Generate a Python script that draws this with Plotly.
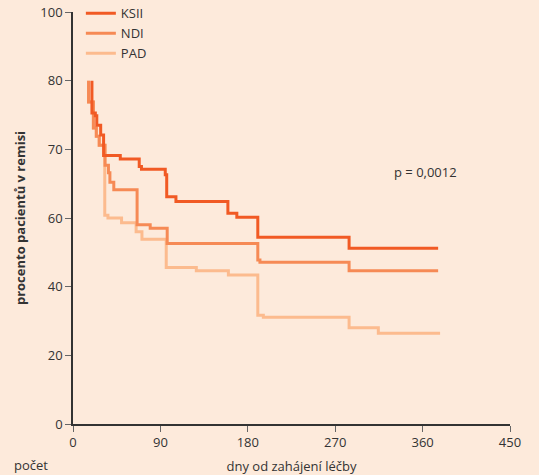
import numpy as np
import plotly.graph_objects as go

# ---- data ----
ksii_days = [19.5, 19.5, 23, 24.5, 28.5, 31.5, 48.7, 68.2, 70.5, 95, 96.5, 106, 159.5, 168.7, 190.3, 284.3, 376]
ksii_pct = [80, 75.3, 74.9, 73.5, 72.1, 69.1, 68.6, 67.5, 67.1, 66.3, 63.1, 62.4, 60.7, 60.1, 54.4, 51.2, 51.2]

ndi_days = [16, 16, 21, 24, 27, 33, 36.5, 38, 42, 66, 79.5, 97, 190.3, 192.5, 284.3, 376]
ndi_pct = [80, 76.9, 73.1, 71.9, 70.6, 67.7, 66.6, 65.2, 64.1, 58.0, 57.0, 52.6, 47.8, 47.1, 44.6, 44.6]

pad_days = [16, 16, 21, 24, 27, 32.7, 36, 50, 65, 71, 96, 127, 160, 190.3, 196, 284.3, 314.4, 378]
pad_pct = [80, 76.9, 73.1, 71.9, 70.6, 60.4, 60.0, 58.6, 56.0, 53.8, 45.6, 44.6, 43.4, 31.7, 31.1, 28.0, 26.4, 26.4]

ytick_labels = [0, 20, 40, 60, 70, 80, 100]
xtick_vals = [0, 90, 180, 270, 360, 450]

# evenly spaced tick positions (axis drawn in position units)
ytick_pos = list(np.linspace(0, 100, len(ytick_labels)))


def to_pos(v):
    return list(np.interp(v, ytick_labels, ytick_pos))


BG = "#fdeadb"
FONT = "Open Sans"
series = [
    ("KSII", ksii_days, ksii_pct, "#f15a24"),
    ("NDI", ndi_days, ndi_pct, "#f68a55"),
    ("PAD", pad_days, pad_pct, "#fcbb8e"),
]

fig = go.Figure()
for name, d, p, c in series[::-1]:
    fig.add_trace(go.Scatter(
        x=d, y=to_pos(p), mode="lines", name=name,
        line=dict(color=c, width=3, shape="hv"),
    ))

fig.update_layout(
    width=539, height=475,
    margin=dict(l=73, r=29, t=12, b=51, autoexpand=False),
    paper_bgcolor=BG, plot_bgcolor=BG,
    font=dict(family=FONT, size=13, color="#333333"),
    showlegend=True,
    legend=dict(
        x=0.018, y=1.033, xanchor="left", yanchor="top",
        bgcolor="rgba(0,0,0,0)", traceorder="reversed",
        font=dict(size=13, color="#333333"),
        itemwidth=30, tracegroupgap=0,
    ),
    xaxis=dict(
        range=[0, 450], tickvals=xtick_vals, showgrid=False, zeroline=False,
        showline=True, linecolor="#333333", linewidth=1.5,
        ticks="outside", ticklen=6, tickcolor="#666666", automargin=False,
        title=dict(text="dny od zahájení léčby", standoff=12, font=dict(size=13)),
    ),
    yaxis=dict(
        range=[0, 100], tickvals=ytick_pos, ticktext=[str(v) for v in ytick_labels],
        showgrid=False, zeroline=False,
        showline=True, linecolor="#333333", linewidth=1.5,
        ticks="outside", ticklen=6, tickcolor="#666666", automargin=False,
        title=dict(text="<b>procento pacientů v remisi</b>", standoff=12, font=dict(size=13)),
    ),
    annotations=[
        dict(x=363, y=61.2, xref="x", yref="y", text="p = 0,0012", showarrow=False,
             font=dict(size=13, color="#333333")),
        dict(x=-0.14, y=-0.072, xref="paper", yref="paper", text="počet", showarrow=False,
             xanchor="left", yanchor="top", font=dict(size=13, color="#333333")),
    ],
)

fig.write_html(
    "out.html",
    config={"displayModeBar": False},
    post_script="document.body.style.margin='0';document.body.style.background='%s';" % BG,
)
